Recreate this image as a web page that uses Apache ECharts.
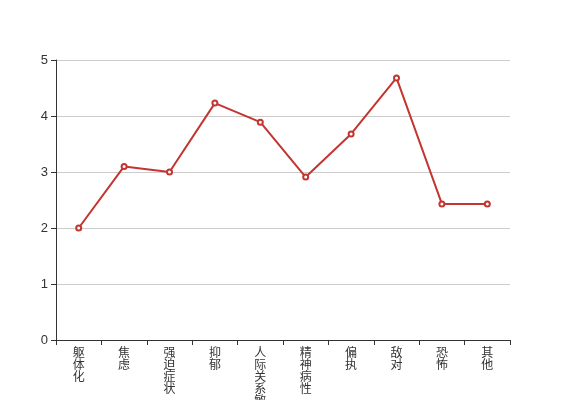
<!DOCTYPE html>
<html>
<head>
<meta charset="utf-8">
<script src="https://cdn.jsdelivr.net/npm/echarts@6/dist/echarts.min.js"></script>
<style>
  html, body { margin: 0; padding: 0; background: #fff; }
  #chart { width: 567px; height: 400px; }
</style>
</head>
<body>
<div id="chart"></div>
<script>
const categories = ['躯体化', '焦虑', '强迫症状', '抑郁', '人际关系敏感', '精神病性', '偏执', '敌对', '恐怖', '其他']
const scores = [2.0, 3.1, 3.0, 4.23, 3.89, 2.91, 3.68, 4.68, 2.43, 2.43]

const chart = echarts.init(document.getElementById('chart'))

const option = {
  animation: false,
  backgroundColor: '#fff',
  textStyle: { fontFamily: 'Liberation Sans, Noto Sans CJK SC, sans-serif' },
  grid: { left: 56, right: 57, top: 60, bottom: 60, containLabel: false, outerBoundsMode: 'none' },
  xAxis: {
    type: 'category',
    data: categories,
    boundaryGap: true,
    axisLine: { lineStyle: { color: '#333' } },
    axisTick: { show: true, alignWithLabel: false, length: 5, lineStyle: { color: '#333' } },
    axisLabel: {
      interval: 0,
      color: '#333',
      fontSize: 12,
      lineHeight: 12,
      margin: 8,
      formatter: v => v.split('').join('\n'),
    },
  },
  yAxis: {
    type: 'value',
    min: 0,
    max: 5,
    interval: 1,
    axisLine: { show: true, lineStyle: { color: '#333' } },
    axisTick: { show: true, length: 5, lineStyle: { color: '#333' } },
    axisLabel: { color: '#333', fontSize: 13 },
    splitLine: { lineStyle: { color: '#ccc' } },
  },
  series: [
    {
      type: 'line',
      data: scores,
      symbol: 'emptyCircle',
      symbolSize: 5,
      itemStyle: { color: '#c23531', borderWidth: 1 },
      lineStyle: { color: '#c23531', width: 2 },
    },
  ],
}

chart.setOption(option)
</script>
</body>
</html>
